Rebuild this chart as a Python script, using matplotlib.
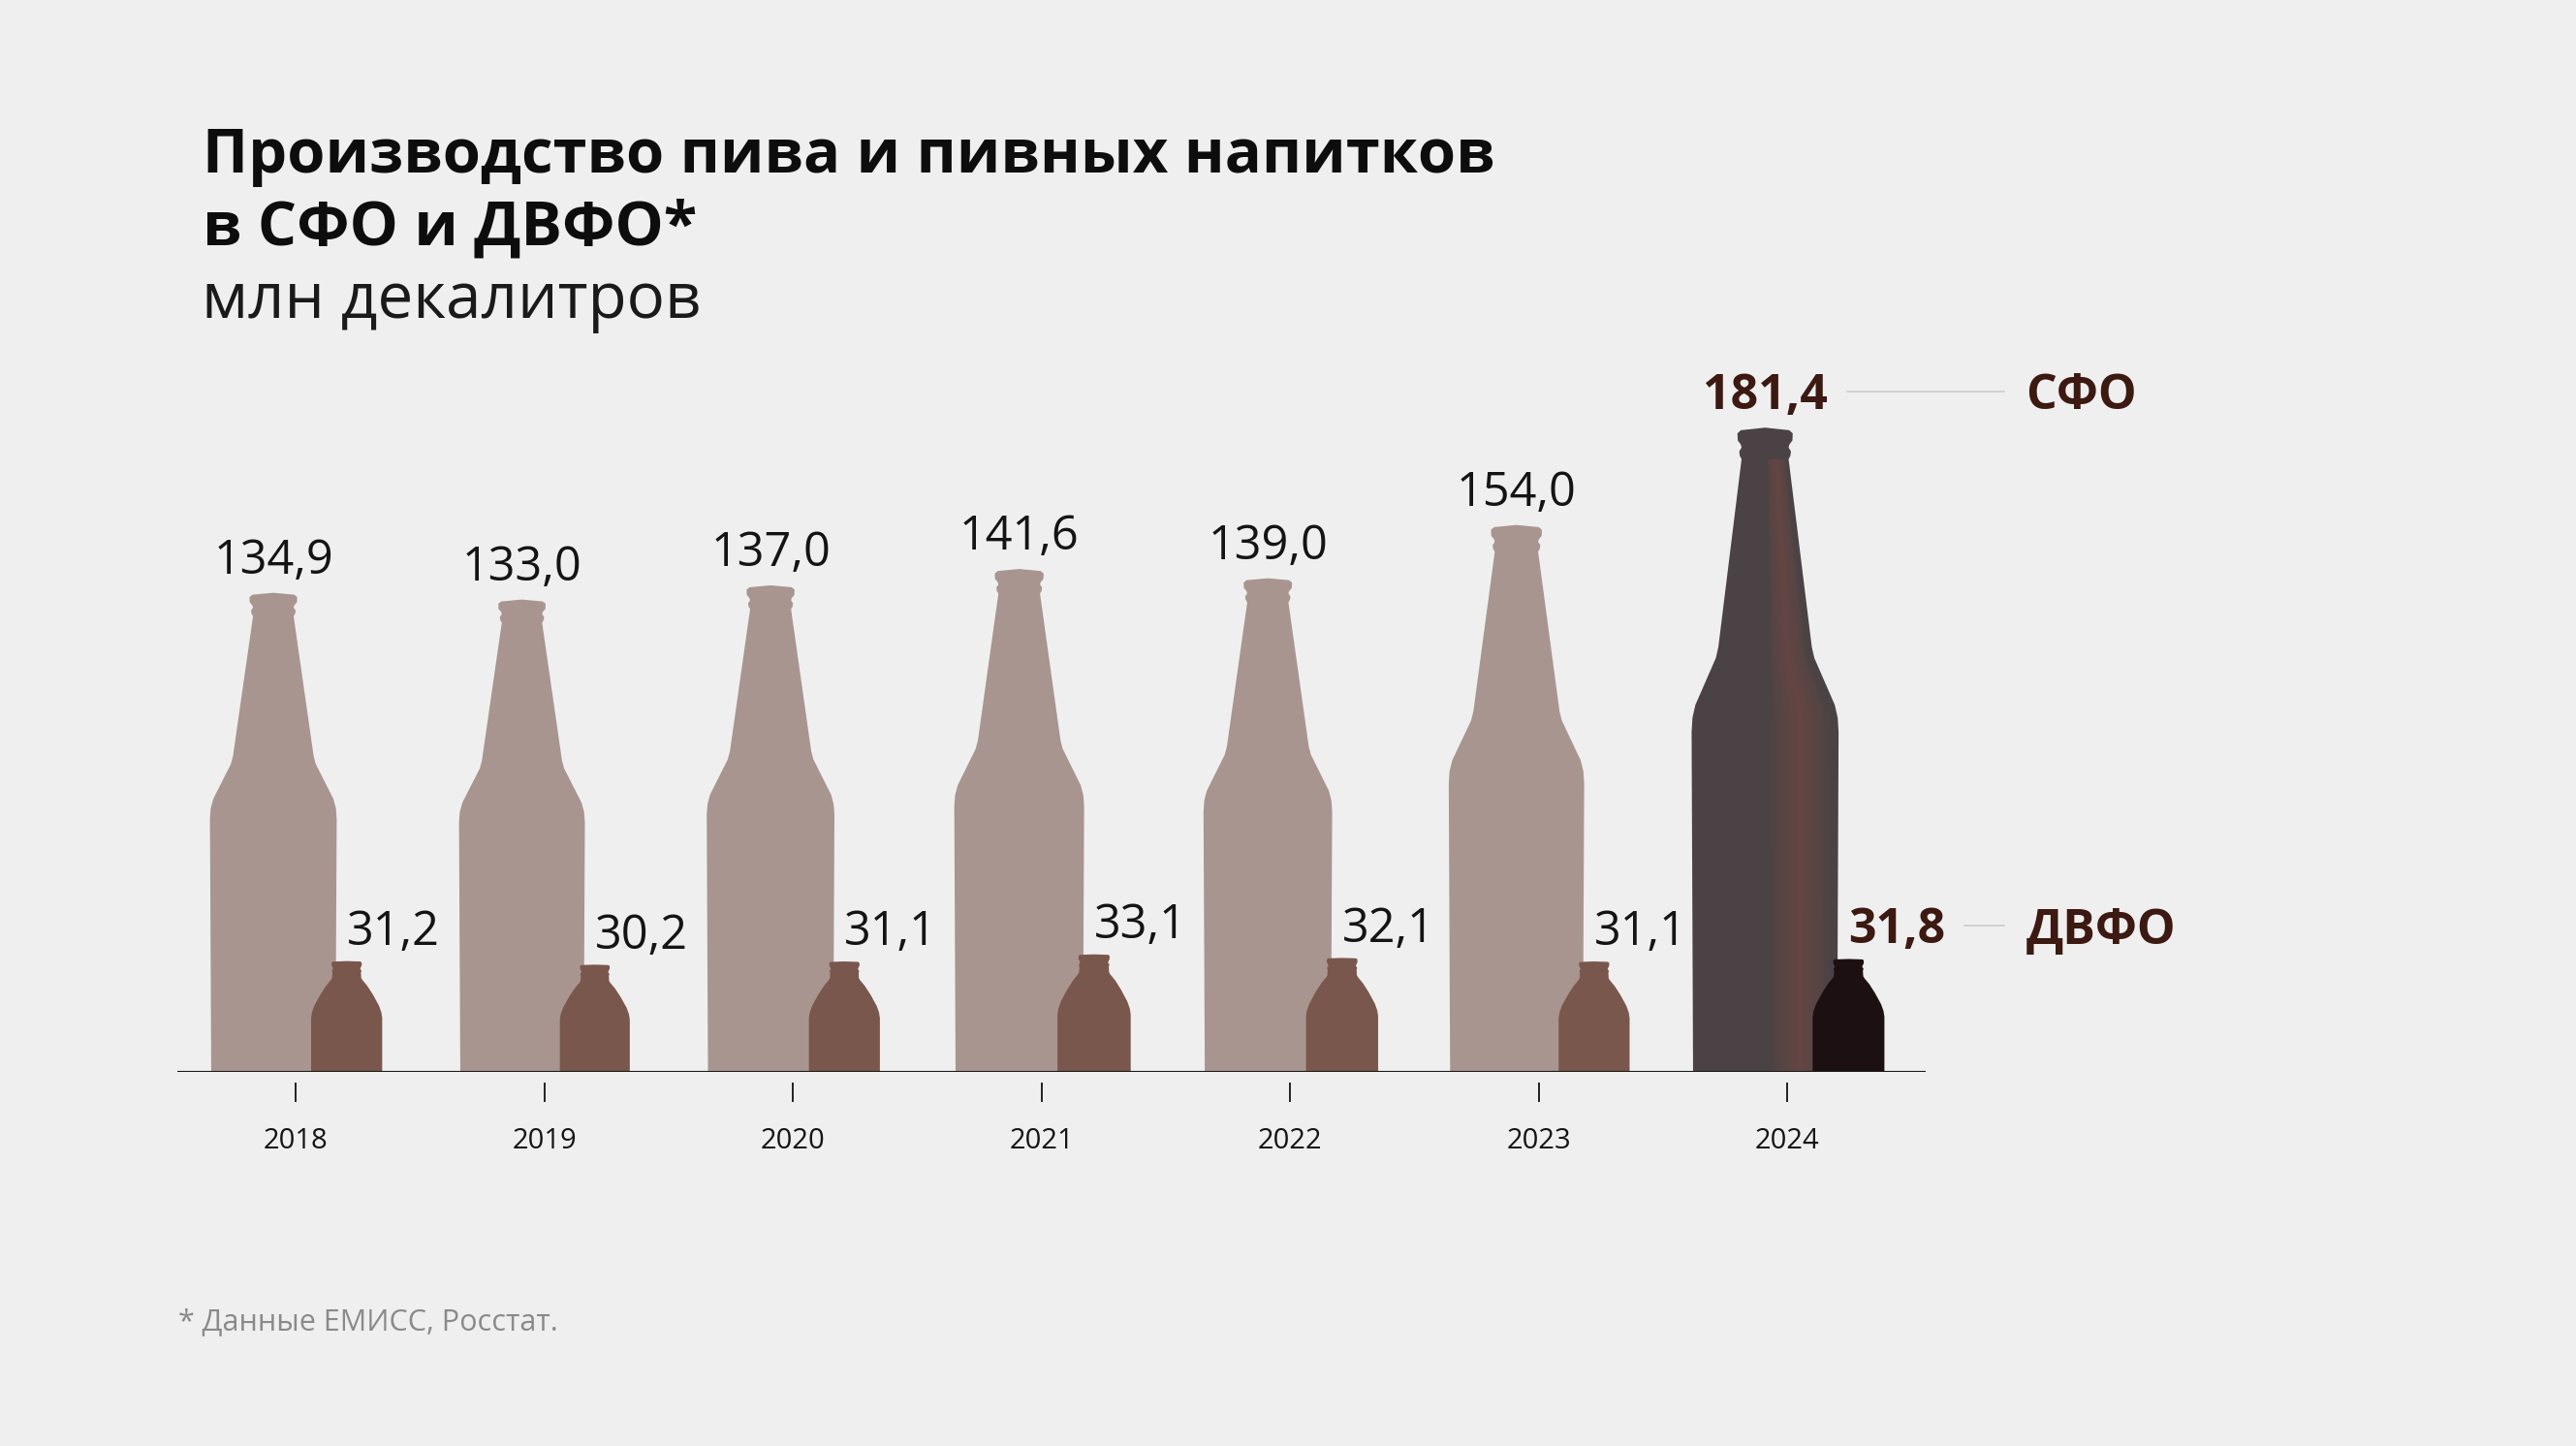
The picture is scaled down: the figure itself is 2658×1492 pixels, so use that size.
import matplotlib
matplotlib.use("Agg")
import matplotlib.pyplot as plt
from matplotlib.patches import Polygon
from matplotlib.transforms import offset_copy
import numpy as np

# ---------------- data ----------------
years = ["2018", "2019", "2020", "2021", "2022", "2023", "2024"]
sfo = [134.9, 133.0, 137.0, 141.6, 139.0, 154.0, 181.4]     # СФО
dvfo = [31.2, 30.2, 31.1, 33.1, 32.1, 31.1, 31.8]           # ДВФО
series_names = ["СФО", "ДВФО"]
title_lines = ["Производство пива и пивных напитков", "в СФО и ДВФО*"]
subtitle = "млн декалитров"
footnote = "* Данные ЕМИСС, Росстат."

def fmt(v):
    return f"{v:.1f}".replace(".", ",")

# ---------------- style ----------------
FONT = ["Open Sans", "DejaVu Sans"]
plt.rcParams["font.family"] = FONT
BG = "#efefef"
BIG_C = "#a8958f"
SMALL_C = "#7a574d"
HL_BIG = "#4a4245"
HL_SMALL = "#1c1012"
STRIPE = "#7d5343"
HL_TEXT = "#3c1911"
TEXT = "#141414"
FOOT = "#8a8a8a"
LEG_LINE = "#c9c9c9"

W_PX, H_PX, DPI = 2658, 1492, 100
AX_LEFT, AX_RIGHT = 183, 1987
BASE_Y = 1106
PX_PER_UNIT_Y = 3.65
YMAX = 205
XMIN, XMAX = -0.476, 6.556
X_UNIT_PX = (AX_RIGHT - AX_LEFT) / (XMAX - XMIN)

BIG_OFF = -0.09
BIG_W0, BIG_REF = 0.51, 135.0
SMALL_W0, SMALL_REF = 0.285, 31.0
SMALL_GAP = 0.04

BIG_PROFILE = [(0.000, 0.490), (0.530, 0.500), (0.552, 0.494), (0.572, 0.474),
               (0.645, 0.335), (0.662, 0.318), (0.955, 0.160), (0.960, 0.172),
               (0.967, 0.176), (0.973, 0.160), (0.978, 0.166), (0.984, 0.186),
               (0.995, 0.188), (1.000, 0.165)]
SMALL_PROFILE = [(0.00, 0.500), (0.49, 0.500), (0.54, 0.488), (0.60, 0.455),
                 (0.70, 0.370), (0.78, 0.290), (0.83, 0.225), (0.85, 0.205),
                 (0.90, 0.200), (0.915, 0.210), (0.935, 0.190), (0.95, 0.200),
                 (0.965, 0.212), (0.99, 0.212), (1.00, 0.195)]


def bottle_xy(profile, cx, width, height, dome=0.004):
    right = [(cx + hw * width, f * height) for f, hw in profile]
    top = [(cx, (1 + dome) * height)]
    left = [(cx - hw * width, f * height) for f, hw in reversed(profile)]
    return right + top + left


def stripe_xy(profile, cx, width, height, s1, s2, fmax=0.955):
    pts = [(f, hw) for f, hw in profile if f <= fmax]
    right = [(cx + s2 * hw * width, f * height) for f, hw in pts]
    left = [(cx + s1 * hw * width, f * height) for f, hw in reversed(pts)]
    return right + left


fig = plt.figure(figsize=(W_PX / DPI, H_PX / DPI), dpi=DPI, facecolor=BG)
ax = fig.add_axes([AX_LEFT / W_PX, (H_PX - BASE_Y) / H_PX,
                   (AX_RIGHT - AX_LEFT) / W_PX, YMAX * PX_PER_UNIT_Y / H_PX])
ax.set_facecolor("none")
ax.set_xlim(XMIN, XMAX)
ax.set_ylim(0, YMAX)
for s in ["left", "right", "top"]:
    ax.spines[s].set_visible(False)
ax.spines["bottom"].set_position(("outward", 11 * 72 / DPI))
ax.spines["bottom"].set_visible(False)
ax.set_yticks([])
ax.set_xticks(range(len(years)))
ax.set_xticklabels(years, fontsize=21, color=TEXT)
ax.tick_params(axis="x", length=20 * 72 / DPI, width=1.4, color="#222222",
               pad=19)
ax.axhline(0, color="#1a1a1a", lw=1.5, zorder=5)

n = len(years)
hl = n - 1
big_lab_tr = offset_copy(ax.transData, fig=fig, y=22, units="dots")
small_lab_tr = offset_copy(ax.transData, fig=fig, y=17, units="dots")

big_labels, small_labels = [], []
for i in range(n):
    is_hl = (i == hl)
    bw = BIG_W0 * np.sqrt(sfo[i] / BIG_REF)
    sw = SMALL_W0 * np.sqrt(dvfo[i] / SMALL_REF)
    bcx = i + BIG_OFF
    scx = bcx + bw / 2 + SMALL_GAP

    ax.add_patch(Polygon(bottle_xy(BIG_PROFILE, bcx, bw, sfo[i]), closed=True,
                         facecolor=HL_BIG if is_hl else BIG_C, edgecolor="none",
                         zorder=2, clip_on=False))
    if is_hl:
        for half in np.linspace(0.40, 0.03, 12):
            ax.add_patch(Polygon(stripe_xy(BIG_PROFILE, bcx, bw, sfo[i],
                                           0.48 - half, min(0.48 + half, 0.9)),
                                 closed=True, facecolor=STRIPE,
                                 edgecolor="none", alpha=0.07, zorder=2.5,
                                 clip_on=False))
    ax.add_patch(Polygon(bottle_xy(SMALL_PROFILE, scx, sw, dvfo[i]), closed=True,
                         facecolor=HL_SMALL if is_hl else SMALL_C,
                         edgecolor="none", zorder=3, clip_on=False))

    tb = ax.text(bcx, sfo[i], fmt(sfo[i]), transform=big_lab_tr,
                 ha="center", va="baseline",
                 fontsize=36 if is_hl else 35,
                 fontweight="bold" if is_hl else "normal",
                 color=HL_TEXT if is_hl else TEXT, zorder=6)
    ts = ax.text(scx, dvfo[i], fmt(dvfo[i]), transform=small_lab_tr,
                 ha="left", va="baseline",
                 fontsize=36 if is_hl else 35,
                 fontweight="bold" if is_hl else "normal",
                 color=HL_TEXT if is_hl else TEXT, zorder=6)
    big_labels.append(tb)
    small_labels.append(ts)

# ---------------- series legend next to the highlighted year ----------------
NAME_X = 6.959
LINE_END = 6.873
fig.canvas.draw()
renderer = fig.canvas.get_renderer()
inv = ax.transData.inverted()


def right_edge_data(t):
    bb = t.get_window_extent(renderer)
    return inv.transform((bb.x1, bb.y0))[0]


for lab, val, base_off, name in [(big_labels[hl], sfo[hl], 22, series_names[0]),
                                 (small_labels[hl], dvfo[hl], 17, series_names[1])]:
    x0 = right_edge_data(lab) + 20 / X_UNIT_PX
    tr_line = offset_copy(ax.transData, fig=fig, y=base_off + 18, units="dots")
    ax.plot([x0, LINE_END], [val, val], color=LEG_LINE, lw=1.1,
            transform=tr_line, clip_on=False, zorder=4)
    tr_name = offset_copy(ax.transData, fig=fig, y=base_off, units="dots")
    ax.text(NAME_X, val, name, transform=tr_name, ha="left", va="baseline",
            fontsize=36, fontweight="bold", color=HL_TEXT)

# ---------------- titles ----------------


def fit_width(t, target):
    fig.canvas.draw()
    w = t.get_window_extent(fig.canvas.get_renderer()).width
    t.set_fontsize(t.get_fontsize() * target / w)


t1 = fig.text(209 / W_PX, 1 - 178 / H_PX, title_lines[0], fontsize=48,
              fontweight="bold", color="#0d0d0d", ha="left", va="baseline")
fit_width(t1, 1334)
fig.text(209 / W_PX, 1 - 252.5 / H_PX, title_lines[1], fontsize=t1.get_fontsize(),
         fontweight="bold", color="#0d0d0d", ha="left", va="baseline")
ts_ = fig.text(208 / W_PX, 1 - 328.5 / H_PX, subtitle, fontsize=44,
               color="#1a1a1a", ha="left", va="baseline")
fit_width(ts_, 516)
tf = fig.text(184 / W_PX, 1 - 1372 / H_PX, footnote, fontsize=23,
              color=FOOT, ha="left", va="baseline")
fit_width(tf, 393)

fig.savefig("out.png", dpi=DPI, facecolor=BG)
